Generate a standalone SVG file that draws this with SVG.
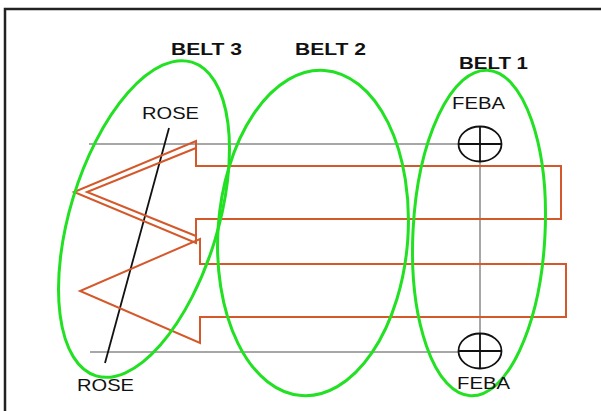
<svg xmlns="http://www.w3.org/2000/svg" width="601" height="411" viewBox="0 0 601 411">
<style>
.frame{stroke:#222;stroke-width:2.5;fill:none}
.grid{stroke:#8a8a8a;stroke-width:1.5;fill:none}
.belt{stroke:#22e022;stroke-width:3;fill:none}
.arrow{stroke:#d4582a;stroke-width:2;fill:none;stroke-linejoin:miter}
.lbl{font-family:"Liberation Sans",Arial,sans-serif;font-size:17px;fill:#111}
.bold{font-weight:bold}
.mark{stroke:#111;stroke-width:1.8;fill:none}
</style>
<rect width="601" height="411" fill="#fff"/>
<path class="frame" d="M5,411 V9 H601"/>
<g id="connectors">
<path class="grid" d="M89,144 H458"/>
<path class="grid" d="M90,352 H458"/>
<path class="grid" d="M480,162 V333"/>
<path class="mark" d="M169,128 L105,363"/>
</g>
<g id="arrow-upper">
<path class="arrow" d="M196,166 H561 V219 H196 V243 L74,192 L196,141 Z"/>
<path class="arrow" d="M196,148 L87,192 L196,236"/>
</g>
<g id="arrow-lower">
<path class="arrow" d="M200,264 H566 V317 H200 V343 L80,291 L200,239 Z"/>
</g>
<g id="belt3">
<ellipse class="belt" cx="144" cy="219" rx="74" ry="164" transform="rotate(17 144 219)"/>
<text class="lbl bold" x="171" y="55" textLength="71" lengthAdjust="spacingAndGlyphs">BELT 3</text>
</g>
<g id="belt2">
<ellipse class="belt" cx="313" cy="233" rx="95" ry="163" transform="rotate(4 313 233)"/>
<text class="lbl bold" x="295" y="55" textLength="71" lengthAdjust="spacingAndGlyphs">BELT 2</text>
</g>
<g id="belt1">
<ellipse class="belt" cx="479" cy="233" rx="66" ry="163" transform="rotate(3 479 233)"/>
<text class="lbl bold" x="459" y="69" textLength="69" lengthAdjust="spacingAndGlyphs">BELT 1</text>
</g>
<g id="rose-top">
<text class="lbl" x="142" y="119" textLength="57" lengthAdjust="spacingAndGlyphs">ROSE</text>
</g>
<g id="rose-bottom">
<text class="lbl" x="77" y="391" textLength="57" lengthAdjust="spacingAndGlyphs">ROSE</text>
</g>
<g id="feba-top">
<ellipse class="mark" cx="480" cy="144" rx="21.5" ry="17.5"/>
<path class="mark" d="M458.5,144 H501.5 M480,126.5 V161.5"/>
<text class="lbl" x="452" y="109" textLength="53" lengthAdjust="spacingAndGlyphs">FEBA</text>
</g>
<g id="feba-bottom">
<ellipse class="mark" cx="480" cy="351" rx="21.5" ry="17.5"/>
<path class="mark" d="M458.5,351 H501.5 M480,333.5 V368.5"/>
<text class="lbl" x="457" y="389" textLength="53" lengthAdjust="spacingAndGlyphs">FEBA</text>
</g>
</svg>
